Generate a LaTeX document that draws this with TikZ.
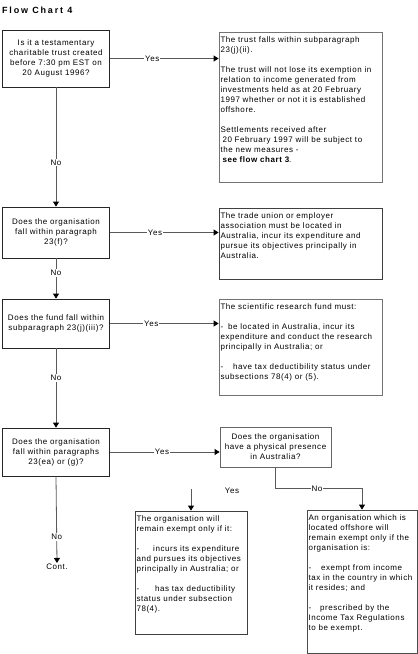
\documentclass[tikz,border=0pt]{standalone}
\usepackage{fontspec}
\setmainfont{Liberation Sans}[LetterSpace=7]
\usetikzlibrary{arrows.meta}
\newcommand\abox[3]{\parbox[c][#2][t]{#1}{\begin{tabular}[t]{@{}l@{}}#3\end{tabular}}}
\begin{document}
\begin{tikzpicture}[x=1pt,y=-1pt,
  font=\fontsize{8}{10}\selectfont,
  qbox/.style={draw=black!85, line width=0.8pt, minimum width=107pt, align=center, inner sep=1pt},
  abx/.style={draw=black!75, line width=0.8pt, inner sep=0pt},
  arr/.style={draw=black!65, line width=0.8pt, -{Triangle[length=5pt,width=6pt,color=black,fill=black]}},
  lbl/.style={fill=white, inner sep=1pt}]
\useasboundingbox (0,0) rectangle (418,654);
\node[anchor=base west, inner sep=0pt, font=\bfseries\fontsize{9}{11}\selectfont\addfontfeature{LetterSpace=20}] (title) at (2,13) {Flow Chart 4};

\node[qbox, minimum height=57pt] (q1) at (56,58.5) {Is it a testamentary\\charitable trust created\\before 7:30 pm EST on\\20 August 1996?};
\node[qbox, minimum height=51pt] (q2) at (56,232.5) {Does the organisation\\fall within paragraph\\23(f)?};
\node[qbox, minimum height=49pt] (q3) at (56,323.5) {Does the fund fall within\\subparagraph 23(j)(iii)?};
\node[qbox, minimum height=48pt] (q4) at (56,452) {Does the organisation\\fall within paragraphs\\23(ea) or (g)?};
\node[qbox, draw=black!60, minimum width=111pt, minimum height=40pt] (q5) at (275.5,447) {Does the organisation\\have a physical presence\\in Australia?};
\node[inner sep=1pt] (cont) at (57,567) {Cont.};

\node[abx, draw=black!55, minimum width=163pt, minimum height=150pt] (a1) at (300.5,107) {\abox{160pt}{143pt}{The trust falls within subparagraph\\23(j)(ii).\\ \\The trust will not lose its exemption in\\relation to income generated from\\investments held as at 20 February\\1997 whether or not it is established\\offshore.\\ \\Settlements received after\\\hspace{2pt}20 February 1997 will be subject to\\the new measures -\\\hspace{2pt}\textbf{see flow chart 3}.}};
\node[abx, minimum width=163pt, minimum height=71pt] (a2) at (300.5,243.5) {\abox{160pt}{64pt}{The trade union or employer\\association must be located in\\Australia, incur its expenditure and\\pursue its objectives principally in\\Australia.}};
\node[abx, draw=black!55, minimum width=163pt, minimum height=96pt] (a3) at (300.5,347) {\abox{160pt}{89pt}{The scientific research fund must:\\ \\-\hspace{5pt}be located in Australia, incur its\\expenditure and conduct the research\\principally in Australia; or\\ \\-\hspace{10pt}have tax deductibility status under\\subsections 78(4) or (5).}};
\node[abx, minimum width=112pt, minimum height=123pt] (a4) at (191,572.5) {\abox{109pt}{116pt}{The organisation will\\remain exempt only if it:\\ \\-\hspace{14pt}incurs its expenditure\\and pursues its objectives\\principally in Australia; or\\ \\-\hspace{16pt}has tax deductibility\\status under subsection\\78(4).}};
\node[abx, draw=black!70, minimum width=110pt, minimum height=143pt] (a5) at (362,581.5) {\abox{107pt}{136pt}{An organisation which is\\located offshore will\\remain exempt only if the\\organisation is:\\ \\-\hspace{10pt}exempt from income\\tax in the country in which\\it resides; and\\ \\-\hspace{9pt}prescribed by the\\Income Tax Regulations\\to be exempt.}};

\draw[arr] (q1.east) -- node[lbl,pos=0.39]{Yes} (q1.east -| a1.west);
\draw[arr] (q2.east) -- node[lbl,pos=0.415]{Yes} (q2.east -| a2.west);
\draw[arr] (q3.east) -- node[lbl,pos=0.38]{Yes} (q3.east -| a3.west);
\draw[arr] (q4.east) -- node[lbl,pos=0.475]{Yes} (q4.east -| q5.west);

\draw[arr] (q1.south) -- node[lbl,pos=0.63]{No} (q2.north);
\draw[arr] (q2.south) -- node[lbl,pos=0.37]{No} (q3.north);
\draw[arr] (q3.south) -- node[lbl,pos=0.375]{No} (q4.north);
\draw[arr] (q4.south) -- node[lbl,pos=0.7]{No} (cont.north);

\draw[arr] (q5.south) -- ++(0,21) coordinate (nb) -- node[lbl,pos=0.48]{No} (nb -| a5.north) -- (a5.north);
\coordinate (ys) at (191,489);
\draw[arr] (ys) -- (a4.north);
\node[inner sep=1pt] (yes5) at (232,491) {Yes};
\end{tikzpicture}
\end{document}
